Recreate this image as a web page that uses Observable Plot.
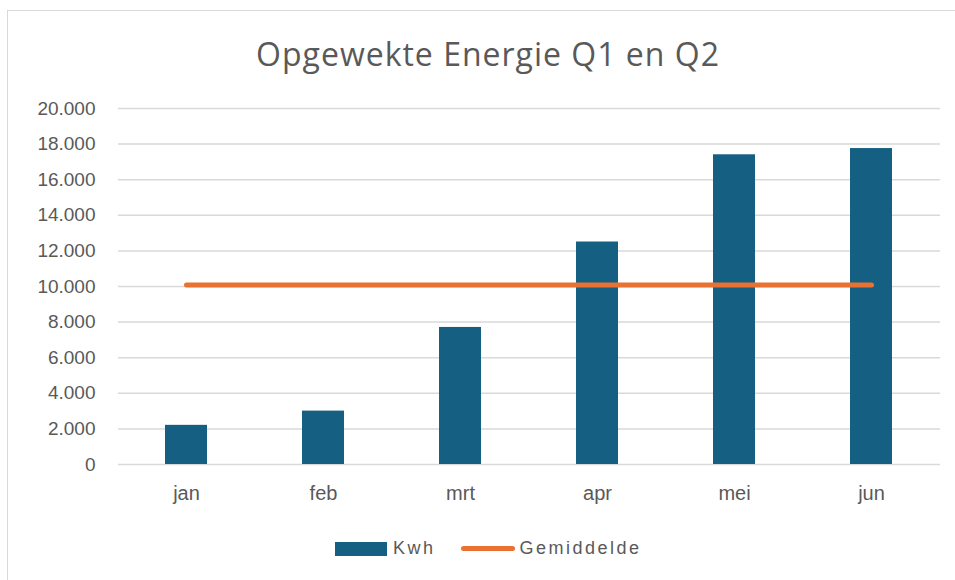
<!DOCTYPE html>
<html>
<head>
<meta charset="utf-8">
<script src="https://cdn.jsdelivr.net/npm/d3@7"></script>
<script src="https://cdn.jsdelivr.net/npm/@observablehq/plot@0.6"></script>
<style>
  html, body { margin: 0; padding: 0; background: #fff; }
  #wrap { position: relative; width: 955px; height: 580px; overflow: hidden; font-family: "Liberation Sans", Arial, sans-serif; }
  #frame { position: absolute; left: 7px; top: 10px; width: 1000px; height: 700px; border-top: 1.5px solid #d9d9d9; border-left: 1.5px solid #d9d9d9; }
  #title { position: absolute; left: 0; width: 976px; top: 32px; text-align: center; font-family: "Open Sans", sans-serif; font-size: 32px; color: #595959; letter-spacing: 1px; }
  #chart { position: absolute; left: 0; top: 90px; }
  #legend { position: absolute; top: 538px; left: 335px; display: flex; align-items: center; font-size: 18px; letter-spacing: 2.5px; color: #595959; }
  .sw-bar { width: 52px; height: 14px; background: #156082; margin-right: 6px; }
  .sw-line { width: 54px; height: 5px; background: #E97132; border-radius: 3px; margin-right: 5px; margin-left: 25px; }
</style>
</head>
<body>
<div id="wrap">
  <div id="frame"></div>
  <div id="title">Opgewekte Energie Q1 en Q2</div>
  <div id="chart"></div>
  <div id="legend"><div class="sw-bar"></div><span>Kwh</span><div class="sw-line"></div><span>Gemiddelde</span></div>
</div>
<script>
const months = ["jan", "feb", "mrt", "apr", "mei", "jun"];
const kwh = [2200, 3000, 7700, 12500, 17400, 17750];
const gemiddelde = [10090, 10090, 10090, 10090, 10090, 10090];
const yTicks = [0, 2000, 4000, 6000, 8000, 10000, 12000, 14000, 16000, 18000, 20000];

const data = months.map((m, i) => ({month: m, kwh: kwh[i], gem: gemiddelde[i]}));
const nl = d3.formatLocale({decimal: ",", thousands: ".", grouping: [3], currency: ["€", ""]});
const fmt = nl.format(",d");

const chart = Plot.plot({
  width: 955,
  height: 430,
  marginTop: 18,
  marginBottom: 56,
  marginLeft: 118,
  marginRight: 15,
  style: {fontFamily: "'Liberation Sans', Arial, sans-serif", fontSize: "19px", color: "#595959", background: "transparent"},
  x: {domain: months, paddingInner: 0.69, paddingOuter: 0.345, label: null},
  y: {domain: [0, 20000], ticks: yTicks, label: null},
  marks: [
    Plot.ruleY(yTicks, {stroke: "#d9d9d9", strokeWidth: 1.5}),
    Plot.barY(data, {x: "month", y: "kwh", fill: "#156082"}),
    Plot.line(data, {x: "month", y: "gem", stroke: "#E97132", strokeWidth: 5, strokeLinecap: "round"}),
    Plot.axisY(yTicks, {tickSize: 0, tickPadding: 23, tickFormat: fmt, fontSize: 19, fill: "#595959"}),
    Plot.axisX({tickSize: 0, tickPadding: 21, fontSize: 20, fill: "#595959", style: "letter-spacing: 1.8px"})
  ]
});
document.getElementById("chart").appendChild(chart);
</script>
</body>
</html>
